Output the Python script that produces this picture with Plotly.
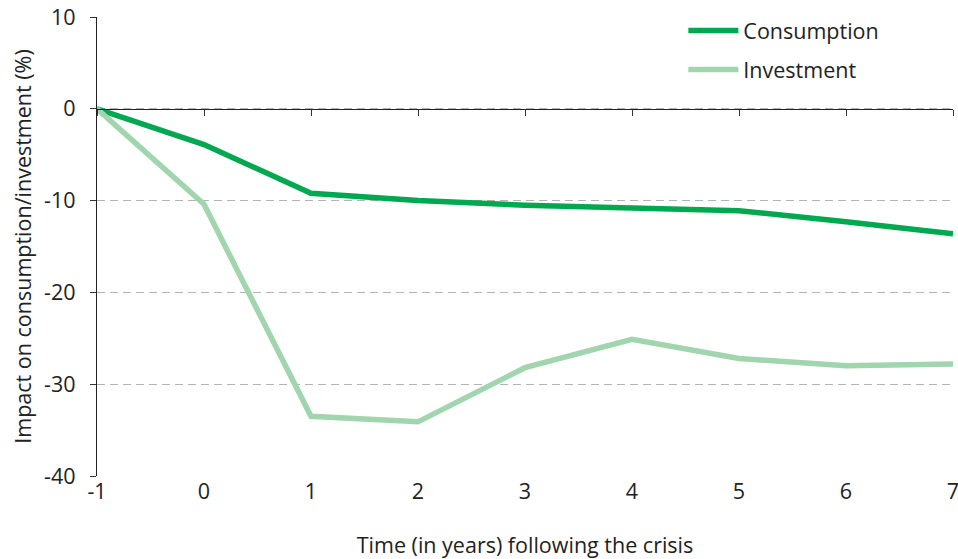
import plotly.graph_objects as go

# Years relative to the crisis and the impact on each aggregate (%)
years = [-1, 0, 1, 2, 3, 4, 5, 6, 7]
consumption = [0, -3.9, -9.2, -10.0, -10.5, -10.8, -11.1, -12.3, -13.6]
investment = [0, -10.4, -33.5, -34.1, -28.2, -25.1, -27.2, -28.0, -27.8]

y_ticks = [10, 0, -10, -20, -30, -40]
x_ticks = [-1, 0, 1, 2, 3, 4, 5, 6, 7]

FONT = "Open Sans"
TEXT = "#222222"
GRID = "#b3b3b3"
FS = 21.5

fig = go.Figure()
fig.add_trace(go.Scatter(
    x=years, y=consumption, name="Consumption", mode="lines",
    line=dict(color="#00a84f", width=5.5), legendgroup="c",
))
fig.add_trace(go.Scatter(
    x=years, y=investment, name="Investment", mode="lines",
    line=dict(color="#a0d5ae", width=5.5), legendgroup="i",
))
# invisible trace so the zero-line axis renders
fig.add_trace(go.Scatter(
    x=years, y=[0] * len(years), xaxis="x2", mode="lines",
    line=dict(width=0), showlegend=False, hoverinfo="skip",
))

fig.update_layout(
    width=958, height=559,
    margin=dict(l=97, r=5, t=17, b=83),
    paper_bgcolor="white", plot_bgcolor="white",
    font=dict(family=FONT, size=FS, color=TEXT),
    xaxis=dict(
        range=[-1, 7], tickvals=x_ticks, ticktext=[str(v) for v in x_ticks],
        showgrid=False, zeroline=False, showline=False, ticks="",
        ticklabeloverflow="allow", automargin=False,
        title=dict(text="Time (in years) following the crisis", standoff=34,
                   font=dict(size=FS)),
        tickfont=dict(size=FS),
    ),
    xaxis2=dict(
        range=[-1, 7], overlaying="x", anchor="free", position=0.8,
        tickvals=x_ticks, showticklabels=False, ticks="outside",
        ticklen=6, tickcolor="#333333", showline=True, linecolor="#222222",
        linewidth=1.2, showgrid=False, zeroline=False,
    ),
    yaxis=dict(
        range=[-40, 10], tickvals=y_ticks, ticktext=[str(v) for v in y_ticks],
        showgrid=True, gridcolor=GRID, griddash="8px,5px", gridwidth=1.3,
        zeroline=False, showline=True, linecolor="#222222", linewidth=1.2,
        ticks="outside", ticklen=6, tickcolor="#333333", ticklabelstandoff=10,
        automargin=False,
        title=dict(text="Impact on consumption/investment (%)", standoff=6,
                   font=dict(size=FS)),
        tickfont=dict(size=FS),
    ),
    legend=dict(
        x=0.685, y=1.015, xanchor="left", yanchor="top",
        bgcolor="rgba(255,255,255,0)", font=dict(size=FS, color=TEXT),
        tracegroupgap=8, itemwidth=50,
    ),
)

fig.write_html("out.html")
